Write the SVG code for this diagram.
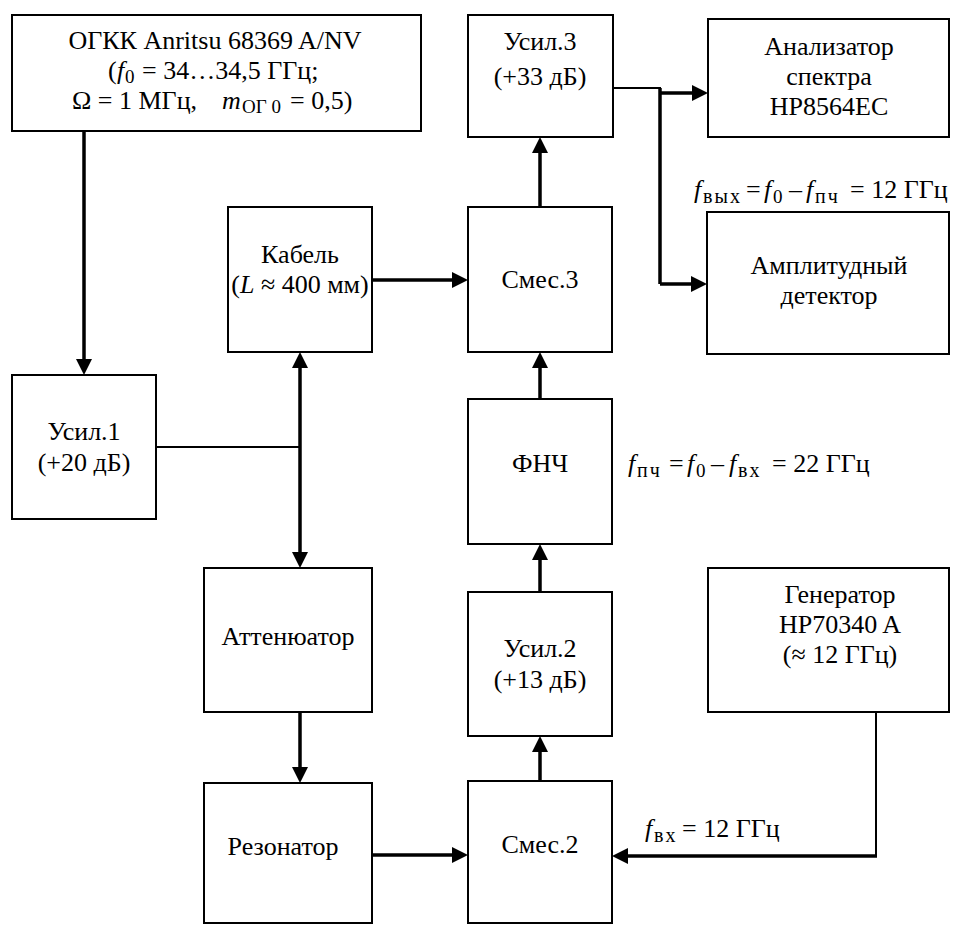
<svg xmlns="http://www.w3.org/2000/svg" width="959" height="925" viewBox="0 0 959 925">
<style>
.b{fill:#fff;stroke:#000;stroke-width:2}
text{font-family:'Liberation Serif','DejaVu Serif',serif;font-size:26px;fill:#000}
.c{text-anchor:middle}
.i{font-style:italic}
.s{font-size:19px}
.ss{font-size:20px;letter-spacing:2px}
.thick{stroke:#000;stroke-width:3.5;fill:none}
.thin{stroke:#000;stroke-width:2;fill:none}
.a{marker-end:url(#ah)}
</style>
<defs>
<marker id="ah" viewBox="0 0 10 10" refX="5" refY="5" markerUnits="userSpaceOnUse" markerWidth="16" markerHeight="16" orient="auto-start-reverse">
<path d="M0,0 L10,5 L0,10 z" fill="#000"/>
</marker>
</defs>
<g id="connectors">
<path class="thick a" d="M84,131 V367"/>
<path class="thin" d="M156,447 H300"/>
<path class="thick a" d="M300,360 V560" marker-start="url(#ah)"/>
<path class="thick a" d="M372,280 H460"/>
<path class="thick a" d="M540,207 V145"/>
<path class="thin" d="M613,88 H661"/>
<path class="thick" d="M660,88 V284"/>
<path class="thick a" d="M660,93 H700"/>
<path class="thick a" d="M660,284 H699"/>
<path class="thick a" d="M540,399 V360"/>
<path class="thick a" d="M540,592 V552"/>
<path class="thick a" d="M540,781 V744"/>
<path class="thick a" d="M300,712 V775"/>
<path class="thick a" d="M372,855 H460"/>
<path class="thin" d="M876,712 V856"/>
<path class="thick a" d="M877,856 H620"/>
</g>
<g id="ogkk">
<rect class="b" x="12" y="15" width="409" height="116"/>
<text class="c" x="215" y="49">ОГКК Anritsu 68369 A/NV</text>
<text y="79"><tspan x="108">(</tspan><tspan class="i" x="117">f</tspan><tspan class="s" x="125" dy="4">0</tspan><tspan x="142" dy="-4">= 34…34,5 ГГц;</tspan></text>
<text y="109"><tspan x="72">Ω = 1 МГц,</tspan><tspan class="i" x="222">m</tspan><tspan class="s" x="242" dy="4">ОГ 0</tspan><tspan x="290" dy="-4">= 0,5)</tspan></text>
</g>
<g id="usil3">
<rect class="b" x="468" y="15" width="145" height="122"/>
<text class="c" x="540" y="50">Усил.3</text>
<text class="c" x="540" y="85">(+33 дБ)</text>
</g>
<g id="analyzer">
<rect class="b" x="708" y="19" width="241" height="118"/>
<text class="c" x="829" y="55">Анализатор</text>
<text class="c" x="829" y="85">спектра</text>
<text class="c" x="829" y="115">HP8564EC</text>
</g>
<g id="kabel">
<rect class="b" x="228" y="207" width="144" height="145"/>
<text class="c" x="300" y="263">Кабель</text>
<text class="c" x="300" y="293">(<tspan class="i">L</tspan> ≈ 400 мм)</text>
</g>
<g id="smes3">
<rect class="b" x="468" y="207" width="144" height="145"/>
<text class="c" x="540" y="288">Смес.3</text>
</g>
<g id="detector">
<rect class="b" x="707" y="212" width="242" height="142"/>
<text class="c" x="829" y="274">Амплитудный</text>
<text class="c" x="829" y="304">детектор</text>
</g>
<g id="usil1">
<rect class="b" x="12" y="375" width="144" height="144"/>
<text class="c" x="84" y="440">Усил.1</text>
<text class="c" x="84" y="471">(+20 дБ)</text>
</g>
<g id="fnch">
<rect class="b" x="468" y="399" width="144" height="145"/>
<text class="c" x="540" y="472">ФНЧ</text>
</g>
<g id="atten">
<rect class="b" x="204" y="568" width="168" height="144"/>
<text class="c" x="288" y="645">Аттенюатор</text>
</g>
<g id="usil2">
<rect class="b" x="468" y="592" width="144" height="144"/>
<text class="c" x="540" y="657">Усил.2</text>
<text class="c" x="540" y="688">(+13 дБ)</text>
</g>
<g id="generator">
<rect class="b" x="708" y="568" width="241" height="144"/>
<text class="c" x="840" y="603">Генератор</text>
<text class="c" x="840" y="633">HP70340 A</text>
<text class="c" x="840" y="663">(≈ 12 ГГц)</text>
</g>
<g id="rezonator">
<rect class="b" x="204" y="783" width="168" height="140"/>
<text class="c" x="283" y="855">Резонатор</text>
</g>
<g id="smes2">
<rect class="b" x="468" y="781" width="144" height="142"/>
<text class="c" x="540" y="853">Смес.2</text>
</g>
<g id="labels">
<text y="198"><tspan class="i" x="694">f</tspan><tspan class="ss" x="703" dy="5">вых</tspan><tspan x="746" dy="-5">=</tspan><tspan class="i" x="764">f</tspan><tspan class="s" x="773" dy="5">0</tspan><tspan x="789" dy="-5">–</tspan><tspan class="i" x="806">f</tspan><tspan class="ss" x="815" dy="5">пч</tspan><tspan x="850" dy="-5">= 12 ГГц</tspan></text>
<text y="472"><tspan class="i" x="628">f</tspan><tspan class="ss" x="637" dy="5">пч</tspan><tspan x="669" dy="-5">=</tspan><tspan class="i" x="687">f</tspan><tspan class="s" x="696" dy="5">0</tspan><tspan x="711" dy="-5">–</tspan><tspan class="i" x="729">f</tspan><tspan class="ss" x="738" dy="5">вх</tspan><tspan x="772" dy="-5">= 22 ГГц</tspan></text>
<text y="837"><tspan class="i" x="645">f</tspan><tspan class="ss" x="654" dy="5">вх</tspan><tspan x="682" dy="-5">= 12 ГГц</tspan></text>
</g>
</svg>
